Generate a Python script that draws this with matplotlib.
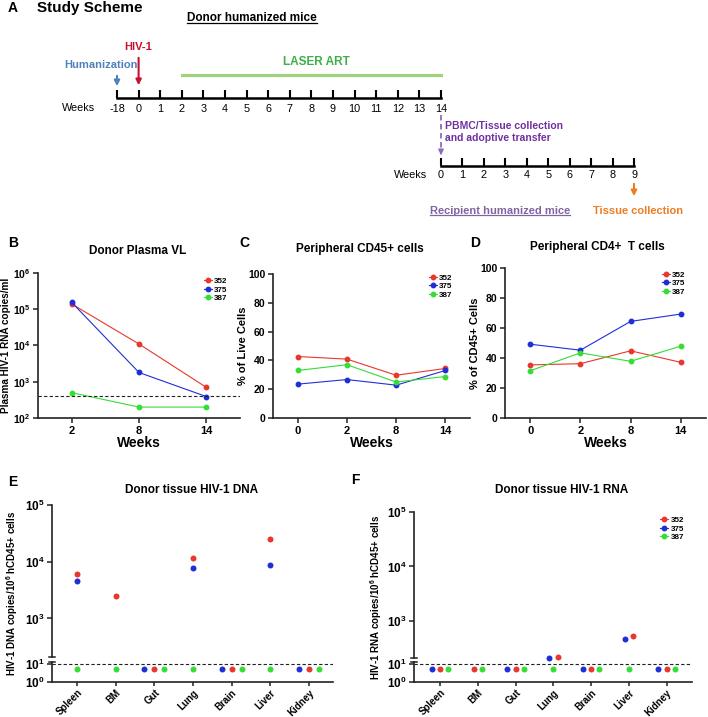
import numpy as np
import matplotlib
matplotlib.use("Agg")
import matplotlib.pyplot as plt
from matplotlib.lines import Line2D

plt.rcParams['font.family'] = ['Liberation Sans', 'DejaVu Sans']
plt.rcParams['font.weight'] = 'bold'
plt.rcParams['axes.labelweight'] = 'bold'
plt.rcParams['mathtext.fontset'] = 'custom'
plt.rcParams['mathtext.rm'] = 'Liberation Sans:bold'
plt.rcParams['mathtext.bf'] = 'Liberation Sans:bold'
plt.rcParams['mathtext.default'] = 'rm'

# ---- data ----
donor_weeks = [-18, 0, 1, 2, 3, 4, 5, 6, 7, 8, 9, 10, 11, 12, 13, 14]
recipient_weeks = [0, 1, 2, 3, 4, 5, 6, 7, 8, 9]
humanization_week = -18
infection_week = 0
art_start, art_end = 2, 14
transfer_week = 0
collection_week = 9

mice = ["352", "375", "387"]

vl_weeks = ["2", "8", "14"]
vl_352 = [140000, 11000, 700]
vl_375 = [155000, 1800, 390]
vl_387 = [500, 200, 200]
vl_limit = 400

blood_weeks = ["0", "2", "8", "14"]
cd45_352 = [42.7, 40.9, 29.7, 34.4]
cd45_375 = [23.5, 26.7, 22.8, 33.0]
cd45_387 = [33.0, 37.0, 25.0, 28.8]
cd4_352 = [35.4, 36.2, 44.8, 37.1]
cd4_375 = [49.2, 45.2, 64.4, 69.3]
cd4_387 = [31.5, 43.4, 37.8, 47.9]

tissues = ["Spleen", "BM", "Gut", "Lung", "Brain", "Liver", "Kidney"]
nan = np.nan
dna_352 = [6000, 2500, 5, 11700, 5, 25000, 5]
dna_375 = [4500, nan, 5, 7700, 5, 8900, 5]
dna_387 = [5, 5, 5, 5, 5, 5, 5]
rna_352 = [5, 5, 5, 220, 5, 525, 5]
rna_375 = [5, nan, 5, 210, 5, 460, 5]
rna_387 = [5, 5, 5, 5, 5, 5, 5]
tissue_limit = 10

c_red, c_blue, c_green = "#E8372C", "#1F2FD8", "#35DD35"
colors = [c_red, c_blue, c_green]

W, H = 708, 717
fig = plt.figure(figsize=(W / 100, H / 100), dpi=100)


def px_axes(l, t, r, b):
    return fig.add_axes([l / W, 1 - b / H, (r - l) / W, (b - t) / H])


def ftext(x, y, s, **kw):
    kw.setdefault('ha', 'center')
    kw.setdefault('va', 'center')
    return fig.text(x / W, 1 - y / H, s, **kw)


def style(ax):
    for s in ['top', 'right']:
        ax.spines[s].set_visible(False)
    for s in ['left', 'bottom']:
        ax.spines[s].set_linewidth(1.2)
        ax.spines[s].set_color('#222222')
    ax.tick_params(length=3.5, width=1.1, labelsize=7.5, color='#222222', pad=2)
    ax.patch.set_visible(False)


def pow_labels(vals):
    return ["$10^{%d}$" % int(round(np.log10(v))) for v in vals]


# ---- panel A: study scheme ----
ftext(8, 8, "A", fontsize=10, ha='left')
ftext(37, 8, "Study Scheme", fontsize=11, ha='left')
underlined = []
underlined.append(ftext(252, 18, "Donor humanized mice", fontsize=8.5))

t1_top, t1_bot = 40, 98
ax1 = px_axes(117, t1_top, 441, t1_bot)
pos1 = np.arange(len(donor_weeks))
ax1.set_xlim(pos1[0], pos1[-1])
ax1.set_ylim(0, 1)
for s in ['top', 'left', 'right']:
    ax1.spines[s].set_visible(False)
ax1.spines['bottom'].set_linewidth(1.8)
ax1.set_xticks(pos1, [str(w) for w in donor_weeks])
ax1.set_yticks([])
ax1.tick_params(axis='x', direction='in', length=6, width=1.5, pad=4, labelsize=7.8)
for lbl in ax1.get_xticklabels():
    lbl.set_fontweight('normal')
ax1.patch.set_visible(False)
tr1 = ax1.get_xaxis_transform()


def yf1(y):
    return (t1_bot - y) / (t1_bot - t1_top)


xh = donor_weeks.index(humanization_week)
xi = donor_weeks.index(infection_week)
ax1.annotate("", xy=(xh, yf1(89)), xytext=(xh, yf1(73)), xycoords=tr1, textcoords=tr1,
             arrowprops=dict(arrowstyle='-|>', color="#4F81BD", lw=1.5, mutation_scale=8))
ax1.annotate("", xy=(xi, yf1(88)), xytext=(xi, yf1(55)), xycoords=tr1, textcoords=tr1,
             arrowprops=dict(arrowstyle='-|>', color="#C8102E", lw=1.5, mutation_scale=8))
ax1.plot([donor_weeks.index(art_start), donor_weeks.index(art_end)], [yf1(75)] * 2,
         transform=tr1, color="#9BD47A", lw=2.2, clip_on=False)
xe = donor_weeks.index(art_end)
ax1.plot([xe, xe], [yf1(115), yf1(150)], transform=tr1, color="#8E6BBF", lw=1.3,
         ls=(0, (3, 2)), clip_on=False)
ax1.annotate("", xy=(xe, yf1(158)), xytext=(xe, yf1(149)), xycoords=tr1, textcoords=tr1,
             arrowprops=dict(arrowstyle='-|>', color="#8E6BBF", lw=1.3, mutation_scale=7))

ftext(138, 47, "HIV-1", fontsize=8, color="#C8102E")
ftext(101, 65, "Humanization", fontsize=8, color="#4F81BD")
ftext(316, 62, "LASER ART", fontsize=8.5, color="#3DAE49")
ftext(62, 108, "Weeks", fontsize=7.8, ha='left', fontweight='normal')
ftext(445, 132, "PBMC/Tissue collection\nand adoptive transfer", fontsize=7.5,
      ha='left', color="#7030A0", linespacing=1.35)

t2_top, t2_bot = 110, 166
ax2 = px_axes(441, t2_top, 634, t2_bot)
pos2 = np.arange(len(recipient_weeks))
ax2.set_xlim(pos2[0], pos2[-1])
ax2.set_ylim(0, 1)
for s in ['top', 'left', 'right']:
    ax2.spines[s].set_visible(False)
ax2.spines['bottom'].set_linewidth(1.8)
ax2.set_xticks(pos2, [str(w) for w in recipient_weeks])
ax2.set_yticks([])
ax2.tick_params(axis='x', direction='in', length=6, width=1.5, pad=3, labelsize=7.8)
for lbl in ax2.get_xticklabels():
    lbl.set_fontweight('normal')
ax2.patch.set_visible(False)
tr2 = ax2.get_xaxis_transform()


def yf2(y):
    return (t2_bot - y) / (t2_bot - t2_top)


xc = recipient_weeks.index(collection_week)
ax2.annotate("", xy=(xc, yf2(199)), xytext=(xc, yf2(181)), xycoords=tr2, textcoords=tr2,
             arrowprops=dict(arrowstyle='-|>', color="#EE7D22", lw=1.5, mutation_scale=8))
ftext(394, 175, "Weeks", fontsize=7.8, ha='left', fontweight='normal')
underlined.append(ftext(500, 211, "Recipient humanized mice", fontsize=8, color="#8064A2"))
ftext(638, 211, "Tissue collection", fontsize=8, color="#EE7D22")


# ---- panels B-D ----
def line_panel(ax, xlabels, series):
    x = np.arange(len(xlabels))
    for vals, c, name in zip(series, colors, mice):
        ax.plot(x, vals, '-o', color=c, lw=0.8, ms=3.2, label=name)
    ax.set_xlim(-0.5, len(xlabels) - 0.5)
    ax.set_xticks(x, xlabels)
    style(ax)
    ax.tick_params(axis='x', labelsize=8)
    ax.set_xlabel("Weeks", fontsize=10, labelpad=0)


def small_legend(ax, anchor):
    ax.legend(loc='upper left', bbox_to_anchor=anchor, frameon=False, fontsize=5.8,
              handlelength=1.0, handletextpad=0.3, labelspacing=0.12,
              borderaxespad=0, borderpad=0)


axB = px_axes(38, 273, 240, 418)
axB.set_yscale('log')
line_panel(axB, vl_weeks, [vl_352, vl_375, vl_387])
axB.axhline(vl_limit, color='#222222', lw=0.8, ls=(0, (3, 2)))
decB = [1e2, 1e3, 1e4, 1e5, 1e6]
axB.set_ylim(decB[0], decB[-1])
axB.set_yticks(decB, pow_labels(decB))
axB.yaxis.set_minor_locator(matplotlib.ticker.NullLocator())
axB.set_ylabel("Plasma HIV-1 RNA copies/ml", fontsize=7.2)
axB.yaxis.set_label_coords(-0.135, 0.5)
small_legend(axB, (0.82, 0.97))
ftext(8, 243, "B", fontsize=10, ha='left')
ftext(138, 251, "Donor Plasma VL", fontsize=8.5)

axC = px_axes(273, 274, 470, 418)
line_panel(axC, blood_weeks, [cd45_352, cd45_375, cd45_387])
axC.set_ylim(0, 100)
axC.set_yticks([0, 20, 40, 60, 80, 100])
axC.set_ylabel("% of Live Cells", fontsize=8)
axC.yaxis.set_label_coords(-0.127, 0.5)
small_legend(axC, (0.79, 1.0))
ftext(239, 243, "C", fontsize=10, ha='left')
ftext(360, 249, "Peripheral CD45+ cells", fontsize=8.5)

axD = px_axes(505, 268, 706, 418)
line_panel(axD, blood_weeks, [cd4_352, cd4_375, cd4_387])
axD.set_ylim(0, 100)
axD.set_yticks([0, 20, 40, 60, 80, 100])
axD.set_ylabel("% of CD45+ Cells", fontsize=8)
axD.yaxis.set_label_coords(-0.124, 0.5)
small_legend(axD, (0.78, 0.98))
ftext(470, 243, "D", fontsize=10, ha='left')
ftext(597, 247, "Peripheral CD4+  T cells", fontsize=8.5)


# ---- panels E-F: tissue scatter with broken axis ----
def spread(series, step, tol=0.1):
    n = len(series[0])
    offs = [np.zeros(n) for _ in series]
    order = [1, 0, 2]
    for i in range(n):
        clusters = []
        for k in order:
            v = series[k][i]
            if np.isnan(v):
                continue
            for cl in clusters:
                if any(abs(np.log10(v) - np.log10(series[j][i])) < tol for j in cl):
                    cl.append(k)
                    break
            else:
                clusters.append([k])
        for cl in clusters:
            for m, k in enumerate(cl):
                offs[k][i] = (m - (len(cl) - 1) / 2) * step
    return offs


def tissue_panel(box_up, box_low, xlim, series, step, ylabel, ylabel_x):
    up = px_axes(*box_up)
    low = px_axes(*box_low)
    offs = spread(series, step)
    x = np.arange(len(tissues))
    for vals, off, c, name in zip(series, offs, colors, mice):
        v = np.array(vals, dtype=float)
        hi = v >= 100
        lo = v < 100
        up.plot(x[hi] + off[hi], v[hi], 'o', color=c, ms=4.3, mec='none',
                clip_on=False, label=name)
        low.plot(x[lo] + off[lo], v[lo], 'o', color=c, ms=4.3, mec='none', clip_on=False)
    for ax in (up, low):
        ax.set_yscale('log')
        ax.set_xlim(*xlim)
        style(ax)
        ax.yaxis.set_minor_locator(matplotlib.ticker.NullLocator())
        ax.tick_params(axis='y', labelsize=8.5)
    up.set_ylim(10 ** 2.32, 1e5)
    up.set_yticks([1e3, 1e4, 1e5], pow_labels([1e3, 1e4, 1e5]))
    up.spines['bottom'].set_visible(False)
    up.set_xticks([])
    up.plot([-0.012, 0.012], [0, 0], transform=up.transAxes, color='#222222', lw=1.1,
            clip_on=False)
    low.set_ylim(1, 10 ** 1.11)
    low.set_yticks([1, 10], pow_labels([1, 10]))
    low.plot([-0.012, 0.012], [1, 1], transform=low.transAxes, color='#222222', lw=1.1,
             clip_on=False)
    low.axhline(tissue_limit, color='#222222', lw=0.8, ls=(0, (3, 2)))
    low.set_xticks(x, tissues, rotation=45, ha='right', rotation_mode='anchor', fontsize=7)
    low.tick_params(axis='x', length=3, pad=1)
    y_mid = (box_up[1] + box_low[3]) / 2
    ftext(ylabel_x, y_mid, ylabel, fontsize=7, rotation=90)
    return up, low


upE, lowE = tissue_panel((52, 505, 333, 657), (52, 662, 333, 682), (-0.65, 6.62),
                         [dna_352, dna_375, dna_387], 0.26,
                         "HIV-1 DNA copies/10$^{6}$ hCD45+ cells", 12)
ftext(8, 482, "E", fontsize=10, ha='left')
ftext(192, 490, "Donor tissue HIV-1 DNA", fontsize=8.5)

upF, lowF = tissue_panel((414, 512, 692, 658), (414, 662, 692, 682), (-0.69, 6.67),
                         [rna_352, rna_375, rna_387], 0.22,
                         "HIV-1 RNA copies/10$^{6}$ hCD45+ cells", 376)
handles = [Line2D([], [], color=c, marker='o', ms=3.2, lw=0.8) for c in colors]
upF.legend(handles, mice, loc='upper left', bbox_to_anchor=(0.885, 0.97), frameon=False,
           fontsize=5.8, handlelength=1.0, handletextpad=0.3, labelspacing=0.12,
           borderaxespad=0, borderpad=0)
ftext(351, 480, "F", fontsize=10, ha='left')
ftext(562, 490, "Donor tissue HIV-1 RNA", fontsize=8.5)

# underline the group headings
fig.canvas.draw()
for t in underlined:
    bb = t.get_window_extent()
    yy = bb.y0 + 1
    fig.add_artist(Line2D([bb.x0 / W, bb.x1 / W], [yy / H, yy / H], transform=fig.transFigure,
                          color=t.get_color(), lw=0.9))

fig.savefig("out.png", dpi=100)
